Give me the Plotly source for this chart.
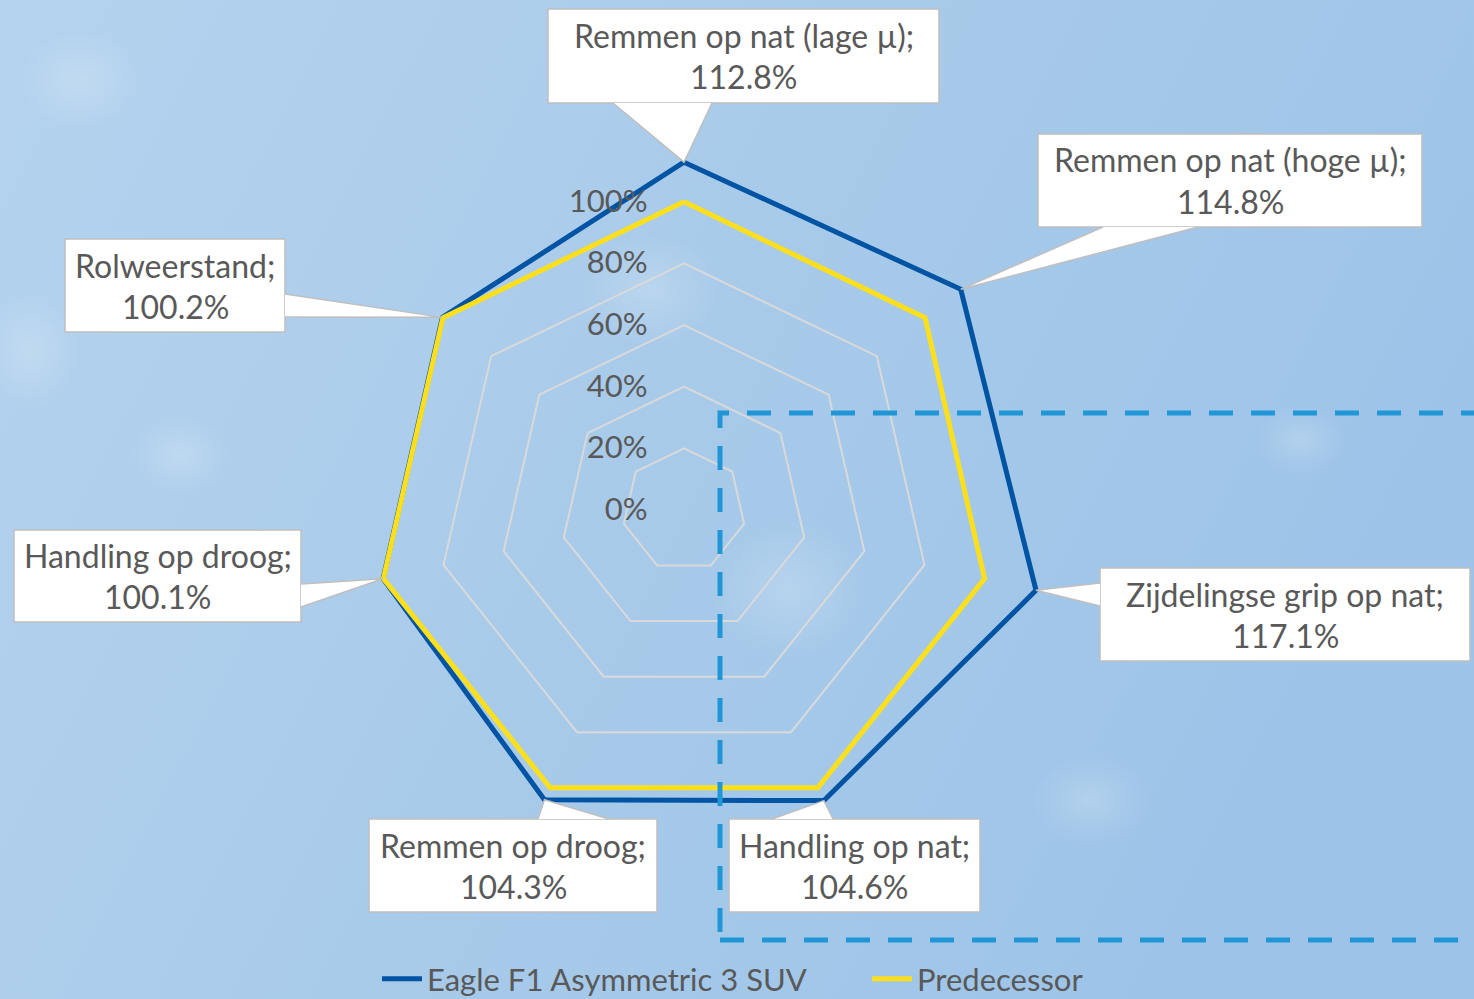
import base64
import numpy as np
import plotly.graph_objects as go

# ---------------- data ----------------
categories = ["Remmen op nat (lage µ)", "Remmen op nat (hoge µ)", "Zijdelingse grip op nat",
              "Handling op nat", "Remmen op droog", "Handling op droog", "Rolweerstand"]
eagle = [112.8, 114.8, 117.1, 104.6, 104.3, 100.1, 100.2]
predecessor = [100, 100, 100, 100, 100, 100, 100]
series_names = ["Eagle F1 Asymmetric 3 SUV", "Predecessor"]
tick_vals = [0, 20, 40, 60, 80, 100]
tick_text = ["0%", "20%", "40%", "60%", "80%", "100%"]

# ---------------- layout constants ----------------
W, H = 1474, 999
CX, CY = 684, 510          # centre of radar in px
R_MAX = 120                 # radial range max
R_PX = 370                  # px radius at R_MAX
FONT = "Lato"
FS = 31
FS_LABEL = 32
TXT = "#595959"
BLUE = "#0054a3"
YELLOW = "#fedf1c"

# callout boxes (px): left, top, right, bottom, wedge base point 1, wedge base point 2
label_boxes = [
    (548, 9, 939, 103, (613, 103), (712, 103)),
    (1038, 134, 1422, 227, (1103, 227), (1198, 227)),
    (1100, 568, 1470, 661, (1100, 583), (1100, 606)),
    (729, 819, 980, 912, (772, 819), (833, 819)),
    (369, 819, 657, 912, (538, 819), (609, 819)),
    (14, 530, 301, 622, (301, 584), (301, 607)),
    (65, 239, 285, 332, (285, 294), (285, 317)),
]


def px(x):
    return x / W


def py(y):
    return 1 - y / H


def polar_to_px(r, idx):
    ang = np.deg2rad(90 - idx * 360 / len(categories))
    s = R_PX / R_MAX
    return CX + r * s * np.cos(ang), CY - r * s * np.sin(ang)


# ---------------- background image ----------------
svg = f"""<svg xmlns='http://www.w3.org/2000/svg' width='{W}' height='{H}'>
<defs>
<linearGradient id='g' x1='0' y1='0' x2='1' y2='0.35'>
<stop offset='0' stop-color='#b5d3ef'/>
<stop offset='0.5' stop-color='#a9cbea'/>
<stop offset='1' stop-color='#9dc4e8'/>
</linearGradient>
<radialGradient id='s'>
<stop offset='0' stop-color='#ffffff' stop-opacity='0.2'/>
<stop offset='1' stop-color='#ffffff' stop-opacity='0'/>
</radialGradient>
</defs>
<rect width='{W}' height='{H}' fill='url(#g)'/>
<ellipse cx='650' cy='290' rx='70' ry='55' fill='url(#s)'/>
<ellipse cx='180' cy='455' rx='50' ry='40' fill='url(#s)'/>
<ellipse cx='30' cy='350' rx='50' ry='60' fill='url(#s)'/>
<ellipse cx='790' cy='590' rx='80' ry='70' fill='url(#s)'/>
<ellipse cx='1300' cy='440' rx='45' ry='35' fill='url(#s)'/>
<ellipse cx='1090' cy='800' rx='60' ry='45' fill='url(#s)'/>
<ellipse cx='80' cy='80' rx='60' ry='50' fill='url(#s)'/>
</svg>"""
bg_src = "data:image/svg+xml;base64," + base64.b64encode(svg.encode()).decode()

fig = go.Figure()

for name, vals, col in [(series_names[0], eagle, BLUE), (series_names[1], predecessor, YELLOW)]:
    fig.add_trace(go.Scatterpolar(
        r=vals + vals[:1], theta=categories + categories[:1], mode="lines", name=name,
        line=dict(color=col, width=5), hoverinfo="skip"))

shapes = []
annotations = []

# callouts
for i, (l, t, r_, b, b1, b2) in enumerate(label_boxes):
    shapes.append(dict(type="rect", xref="paper", yref="paper", x0=px(l), x1=px(r_), y0=py(b), y1=py(t),
                       fillcolor="white", line=dict(color="#bfbfbf", width=1.5), layer="above"))
    tx, ty = polar_to_px(eagle[i], i)
    path = f"M {px(b1[0])},{py(b1[1])} L {px(tx)},{py(ty)} L {px(b2[0])},{py(b2[1])}"
    shapes.append(dict(type="path", xref="paper", yref="paper", path=path,
                       fillcolor="white", line=dict(color="#bfbfbf", width=1.5), layer="above"))
    xc = (l + r_) / 2
    yc = (t + b) / 2
    annotations.append(dict(text=categories[i] + ";", x=px(xc), y=py(yc - 20.5), xref="paper", yref="paper",
                            showarrow=False, xanchor="center", yanchor="middle",
                            font=dict(family=FONT, size=FS_LABEL, color=TXT)))
    annotations.append(dict(text=f"{eagle[i]:.1f}%", x=px(xc), y=py(yc + 20.5), xref="paper", yref="paper",
                            showarrow=False, xanchor="center", yanchor="middle",
                            font=dict(family=FONT, size=FS_LABEL, color=TXT)))

# dashed highlight frame
shapes.append(dict(type="rect", xref="paper", yref="paper", x0=px(720), x1=px(1490), y0=py(940), y1=py(413),
                   line=dict(color="#2196d6", width=5, dash="24px,18px"), fillcolor="rgba(0,0,0,0)",
                   layer="above"))

fig.update_layout(
    width=W, height=H,
    margin=dict(l=0, r=0, t=0, b=0, autoexpand=False),
    paper_bgcolor="#a9cbea",
    images=[dict(source=bg_src, xref="paper", yref="paper", x=0, y=1, sizex=1, sizey=1,
                 sizing="stretch", layer="below", xanchor="left", yanchor="top")],
    polar=dict(
        domain=dict(x=[px(CX - R_PX), px(CX + R_PX)], y=[py(CY + R_PX), py(CY - R_PX)]),
        bgcolor="rgba(0,0,0,0)",
        gridshape="linear",
        radialaxis=dict(range=[0, R_MAX], tickvals=tick_vals, ticktext=tick_text, angle=90,
                        side="counterclockwise", tickangle=90, showline=False,
                        gridcolor="#d9d9d9", gridwidth=1.5, ticks="outside", ticklen=25,
                        tickcolor="rgba(0,0,0,0)",
                        tickfont=dict(family=FONT, size=FS, color=TXT)),
        angularaxis=dict(direction="clockwise", rotation=90, showline=False, showgrid=False,
                         showticklabels=False, ticks=""),
    ),
    showlegend=True,
    legend=dict(orientation="h", x=px(867), xanchor="center", y=py(979), yanchor="middle",
                bgcolor="rgba(0,0,0,0)", font=dict(family=FONT, size=FS, color=TXT),
                itemwidth=40, entrywidth=435, entrywidthmode="pixels", traceorder="normal"),
    shapes=shapes,
    annotations=annotations,
)

fig.write_html("out.html", config={"displayModeBar": False},
               post_script="document.body.style.margin='0';")
